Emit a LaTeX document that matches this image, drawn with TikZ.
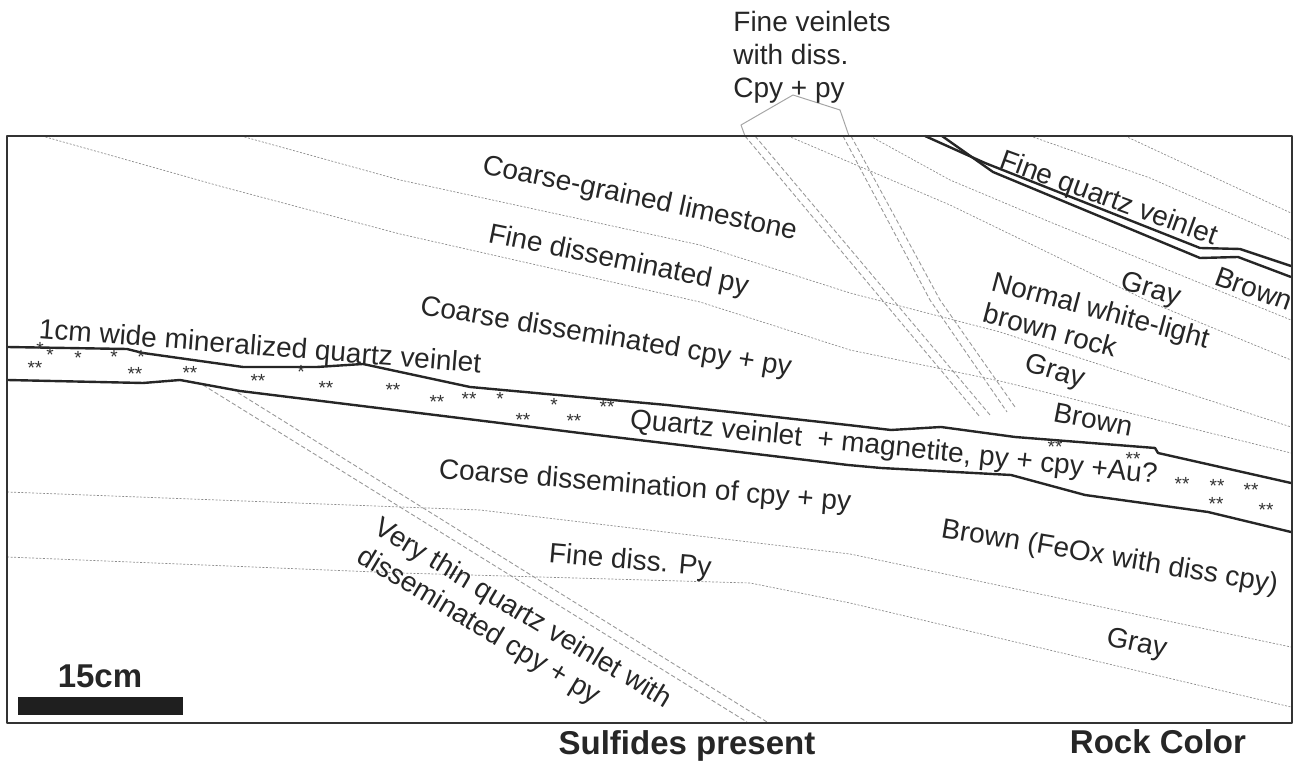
\documentclass[tikz,border=0pt]{standalone}
\usepackage{fontspec}
\setmainfont{Liberation Sans}
\tikzset{
  bed/.style={black!45, line width=0.35pt, dash pattern=on 1pt off 0.8pt},
  veinlet/.style={black!40, line width=0.45pt, dash pattern=on 2.2pt off 1.2pt},
  vein/.style={black!85, line width=1.2pt, line join=round},
  lbl/.style={anchor=base west, inner sep=0pt, font=\fontsize{14}{16.5}\selectfont, text=black!85},
  head/.style={anchor=base, inner sep=0pt, font=\fontsize{16.5}{19}\selectfont\bfseries, text=black!85},
  grain/.style={inner sep=0pt, font=\fontsize{9.5}{10}\selectfont, text=black!80},
}
\begin{document}
\begin{tikzpicture}[x=0.5pt, y=-0.5pt, line join=round]
  \useasboundingbox (0,0) rectangle (1298,763);

  % bedding
  \draw[bed] (241,136) -- (400,180) -- (700,245) -- (850,293) -- (1000,332) -- (1291,427);
  \draw[bed] (42,136) -- (223,187) -- (400,234) -- (700,302) -- (850,350) -- (1000,381) -- (1291,453);
  \draw[bed] (788,136) -- (950,205) -- (1150,302) -- (1291,360);
  \draw[bed] (870,136) -- (950,180) -- (1050,222) -- (1291,320);
  \draw[bed] (1030,136) -- (1150,178) -- (1291,240);
  \draw[bed] (1125,136) -- (1291,213);
  \draw[bed] (7,492) -- (480,510) -- (850,554) -- (1291,647);
  \draw[bed] (7,557) -- (400,573) -- (750,583) -- (850,603) -- (1291,707);

  % fine veinlets and the thin veinlet
  \draw[black!35, line width=0.5pt] (745,136) -- (741,125) -- (793,95) -- (840,110) -- (849,136);
  \draw[veinlet] (745,136) -- (980,417);
  \draw[veinlet] (755,136) -- (990,415);
  \draw[veinlet] (843,136) -- (930,300) -- (1007,412);
  \draw[veinlet] (851,136) -- (940,300) -- (1015,407);
  \draw[veinlet] (203,385) -- (747,722);
  \draw[veinlet] (232,389) -- (767,722);

  % quartz veins
  \draw[vein] (7,347) -- (127,349) -- (143,353) -- (243,367) -- (317,367) -- (363,364)
    -- (470,387) -- (667,405) -- (848,425) -- (891,430) -- (941,427) -- (1015,437)
    -- (1155,448) -- (1158,453) -- (1291,483);
  \draw[vein] (7,380) -- (143,383) -- (180,380) -- (240,391) -- (500,423) -- (580,433)
    -- (848,465) -- (881,468) -- (1011,475) -- (1085,495) -- (1208,512) -- (1291,532);
  \draw[vein] (925,136) -- (985,163) -- (1200,248) -- (1240,249) -- (1291,266);
  \draw[vein] (942,136) -- (993,172) -- (1200,258) -- (1238,257) -- (1291,277);

  \foreach \x/\y/\s [count=\i] in {40/349/*, 50/355/*, 35/368/**, 78/358/*, 114/357/*,
      141/357/*, 135/374/**, 190/373/**, 258/381/**, 301/372/*, 326/388/**, 393/390/**,
      437/402/**, 469/399/**, 500/399/*, 554/405/*, 607/407/**, 523/420/**, 574/421/**,
      1055/447/**, 1133/459/**, 1182/484/**, 1217/486/**, 1251/490/**, 1216/504/**,
      1266/510/**}
    \node[grain] (g\i) at (\x,\y) {\s};

  % labels
  \node[lbl, rotate=-12] (limestone) at (481,173) {Coarse-grained limestone};
  \node[lbl, rotate=-11.5] (finepy) at (487,242) {Fine disseminated py};
  \node[lbl, rotate=-9.5] (coarsepy) at (419,314) {Coarse disseminated cpy + py};
  \node[lbl, rotate=-4.5] (qvein) at (38,338) {1cm wide mineralized quartz veinlet};
  \node[lbl, rotate=-6] (magn) at (629,428) {Quartz veinlet\ \ + magnetite, py + cpy +Au?};
  \node[lbl, rotate=-4.5] (coarsediss) at (438,478) {Coarse dissemination of cpy + py};
  \node[lbl, rotate=-5] (finediss) at (548,562) {Fine diss. Py};
  \node[lbl, anchor=north west, align=left, rotate=-31] (thin) at (383,515)
    {Very thin quartz veinlet with\\disseminated cpy + py};
  \node[lbl, rotate=-20] (fineqtz) at (998,167) {Fine quartz veinlet};
  \node[lbl, rotate=-17] (grayA) at (1119,288) {Gray};
  \node[lbl, rotate=-20] (brownA) at (1213,284) {Brown};
  \node[lbl, anchor=north west, align=left, rotate=-15] (normal) at (995,270)
    {Normal white-light\\brown rock};
  \node[lbl, rotate=-17] (grayB) at (1023,370) {Gray};
  \node[lbl, rotate=-11] (brownB) at (1052,421) {Brown};
  \node[lbl, rotate=-9.5] (feox) at (940,537) {Brown (FeOx with diss cpy)};
  \node[lbl, rotate=-12] (grayC) at (1105,645) {Gray};
  \node[lbl, anchor=north west, align=left] (fineveinlets) at (733,11)
    {Fine veinlets\\with diss.\\Cpy + py};

  % frame, scale and column heads
  \draw[black!80, line width=1.3pt] (7,136) rectangle (1292,723);
  \fill[black!88] (18,697) rectangle (183,715);
  \node[head] (scale) at (100,688) {15cm};
  \node[head] (sulf) at (687,755) {Sulfides present};
  \node[head] (color) at (1158,754) {Rock Color};
\end{tikzpicture}
\end{document}
